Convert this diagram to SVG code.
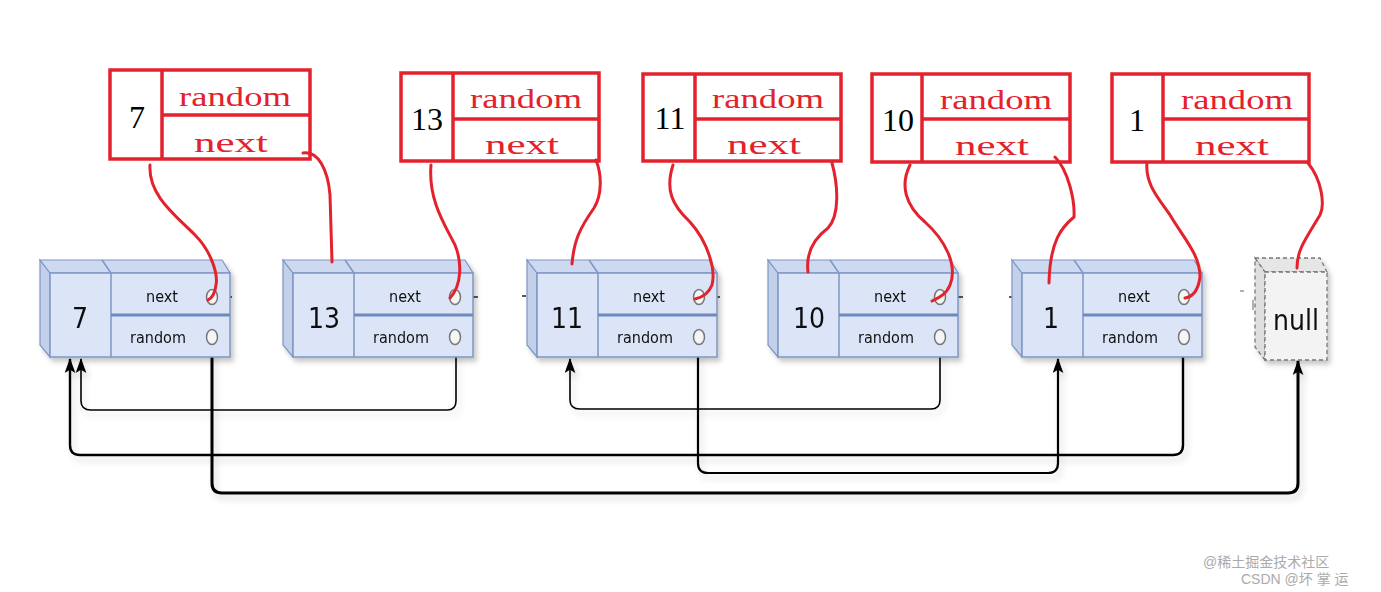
<svg xmlns="http://www.w3.org/2000/svg" xmlns:xlink="http://www.w3.org/1999/xlink" width="1381" height="592" viewBox="0 0 1381 592">
<style>
.face{fill:#dbe5f7;stroke:#7e96c4;stroke-width:1.5}
.side{fill:#c3d0ea;stroke:#7e96c4;stroke-width:1.2}
.top{fill:#cdd9f0;stroke:#7e96c4;stroke-width:1.2}
.div{stroke:#6f89bd;stroke-width:3}
.thin{stroke:#7e96c4;stroke-width:1.5}
.port{fill:#f4f6f4;stroke:#777;stroke-width:1.5}
.lbl{font-family:"DejaVu Sans Condensed","DejaVu Sans",sans-serif;font-size:16px;fill:#111;text-anchor:middle}
.val{font-family:"DejaVu Sans Condensed","DejaVu Sans",sans-serif;font-size:28px;fill:#111;text-anchor:middle}
.rbox{fill:#fff;stroke:#e3222d;stroke-width:3.5}
.rtxt{font-family:"Liberation Serif",serif;font-size:28px;fill:#e3222d;text-anchor:middle}
.rval{font-family:"Liberation Serif",serif;font-size:32px;fill:#000;text-anchor:middle}
.red{fill:none;stroke:#e3222d;stroke-width:3;stroke-linecap:round}
.con{fill:none;stroke:#000}
.wm{font-family:"Liberation Sans","Noto Sans CJK SC",sans-serif;font-size:14px;fill:#aaa}
</style>
<defs>
<filter id="sh" x="-10%" y="-10%" width="130%" height="140%">
<feDropShadow dx="3" dy="4" stdDeviation="2.5" flood-color="#000" flood-opacity="0.22"/>
</filter>
<filter id="shl" x="-5%" y="-20%" width="110%" height="160%">
<feDropShadow dx="3" dy="5" stdDeviation="3" flood-color="#000" flood-opacity="0.15"/>
</filter>
<marker id="arr" viewBox="0 0 14 10" refX="13" refY="5" markerWidth="15" markerHeight="11" markerUnits="userSpaceOnUse" orient="auto">
<path d="M0,0 L14,5 L0,10 L3,5 Z" fill="#000"/>
</marker>
<g id="shape">
<polygon class="side" points="-10,260 0,273 0,357 -10,345"/>
<polygon class="top" points="-10,260 172,260 180,273 0,273"/>
<line class="thin" x1="52" y1="260" x2="61" y2="273"/>
<rect class="face" x="0" y="273" width="180" height="84"/>
<line class="thin" x1="61" y1="273" x2="61" y2="357"/>
<line class="div" x1="61" y1="315" x2="180" y2="315"/>
<ellipse class="port" cx="162" cy="297" rx="5.5" ry="7.5"/>
<ellipse class="port" cx="162" cy="337" rx="5.5" ry="7.5"/>
<text class="lbl" x="112" y="302">next</text>
<text class="lbl" x="108" y="343">random</text>
</g>
</defs>
<rect width="1381" height="592" fill="#fff"/>

<g id="connectors">
<g filter="url(#shl)">
<path class="con" stroke-width="1.6" d="M456,344 V401 Q456,410 447,410 H91 Q81,410 81,401 V359" marker-end="url(#arr)"/>
<path class="con" stroke-width="1.6" d="M940,344 V400 Q940,409 931,409 H580 Q570,409 570,400 V359" marker-end="url(#arr)"/>
<path class="con" stroke-width="2.4" d="M1183,344 V445 Q1183,455 1173,455 H80 Q70,455 70,445 V359" marker-end="url(#arr)"/>
<path class="con" stroke-width="2.2" d="M698,344 V463 Q698,473 708,473 H1048 Q1058,473 1058,463 V359" marker-end="url(#arr)"/>
<path class="con" stroke-width="3" d="M212,344 V483 Q212,493 222,493 H1288 Q1298,493 1298,483 V361" marker-end="url(#arr)"/>
</g>
<g stroke="#000" stroke-width="1.3">
<line x1="217" y1="297" x2="232" y2="297"/>
<line x1="461" y1="297" x2="478" y2="297"/>
<line x1="703" y1="297" x2="720" y2="297"/>
<line x1="945" y1="297" x2="963" y2="297"/>
<line x1="1188" y1="297" x2="1197" y2="297" stroke-width="2.5"/>
<line x1="522" y1="296" x2="526" y2="296"/>
<line x1="1009" y1="297" x2="1012" y2="297"/>
<line x1="1240" y1="291" x2="1244" y2="291" stroke="#888"/>
<line x1="1253" y1="300" x2="1253" y2="310" stroke="#888"/>
</g>
</g>

<g id="node-7" filter="url(#sh)"><use href="#shape" x="50"/><text class="val" x="80" y="328">7</text></g>
<g id="node-13" filter="url(#sh)"><use href="#shape" x="293"/><text class="val" x="324" y="328">13</text></g>
<g id="node-11" filter="url(#sh)"><use href="#shape" x="537"/><text class="val" x="567" y="328">11</text></g>
<g id="node-10" filter="url(#sh)"><use href="#shape" x="778"/><text class="val" x="809" y="328">10</text></g>
<g id="node-1" filter="url(#sh)"><use href="#shape" x="1022"/><text class="val" x="1051" y="328">1</text></g>
<g id="node-null" filter="url(#sh)">
<polygon points="1255,258 1320,258 1327,272 1265,272" fill="#e6e6e6" stroke="#777" stroke-width="1.3" stroke-dasharray="4,3"/>
<polygon points="1255,258 1265,272 1265,360 1255,347" fill="#dedede" stroke="#777" stroke-width="1.3" stroke-dasharray="4,3"/>
<rect x="1265" y="272" width="62" height="88" fill="#f3f3f3" stroke="#777" stroke-width="1.3" stroke-dasharray="4,3"/>
<text class="val" x="1296" y="330">null</text>
</g>

<g id="box-7">
<rect class="rbox" x="110" y="70" width="200" height="89"/>
<line class="rbox" x1="162" y1="70" x2="162" y2="159"/>
<line class="rbox" x1="162" y1="115" x2="310" y2="115"/>
<text class="rval" x="137" y="128">7</text>
<text class="rtxt" x="235" y="106" textLength="112" lengthAdjust="spacingAndGlyphs">random</text>
<text class="rtxt" x="231" y="152" textLength="74" lengthAdjust="spacingAndGlyphs">next</text>
</g>
<g id="box-13">
<rect class="rbox" x="401" y="73" width="198" height="88"/>
<line class="rbox" x1="453" y1="73" x2="453" y2="161"/>
<line class="rbox" x1="453" y1="119" x2="599" y2="119"/>
<text class="rval" x="427" y="130">13</text>
<text class="rtxt" x="526" y="108" textLength="112" lengthAdjust="spacingAndGlyphs">random</text>
<text class="rtxt" x="522" y="154" textLength="74" lengthAdjust="spacingAndGlyphs">next</text>
</g>
<g id="box-11">
<rect class="rbox" x="643" y="74" width="198" height="87"/>
<line class="rbox" x1="695" y1="74" x2="695" y2="161"/>
<line class="rbox" x1="695" y1="119" x2="841" y2="119"/>
<text class="rval" x="670" y="129">11</text>
<text class="rtxt" x="768" y="108" textLength="112" lengthAdjust="spacingAndGlyphs">random</text>
<text class="rtxt" x="764" y="154" textLength="74" lengthAdjust="spacingAndGlyphs">next</text>
</g>
<g id="box-10">
<rect class="rbox" x="872" y="74" width="198" height="88"/>
<line class="rbox" x1="922" y1="74" x2="922" y2="162"/>
<line class="rbox" x1="922" y1="119" x2="1070" y2="119"/>
<text class="rval" x="898" y="131">10</text>
<text class="rtxt" x="996" y="109" textLength="112" lengthAdjust="spacingAndGlyphs">random</text>
<text class="rtxt" x="992" y="155" textLength="74" lengthAdjust="spacingAndGlyphs">next</text>
</g>
<g id="box-1">
<rect class="rbox" x="1112" y="74" width="197" height="88"/>
<line class="rbox" x1="1163" y1="74" x2="1163" y2="162"/>
<line class="rbox" x1="1163" y1="119" x2="1309" y2="119"/>
<text class="rval" x="1137" y="131">1</text>
<text class="rtxt" x="1237" y="109" textLength="112" lengthAdjust="spacingAndGlyphs">random</text>
<text class="rtxt" x="1232" y="155" textLength="74" lengthAdjust="spacingAndGlyphs">next</text>
</g>

<g id="red-links">
<path class="red" d="M150,165 C148,195 175,215 195,235 C212,252 218,275 216,285 C215,293 212,298 208,300"/>
<path class="red" d="M303,153 C318,150 328,170 330,195 L332,262"/>
<path class="red" d="M431,165 C428,200 445,225 455,245 C462,262 462,285 450,298"/>
<path class="red" d="M596,160 C602,175 602,195 594,208 C580,228 574,240 572,264"/>
<path class="red" d="M673,165 C665,190 672,205 690,222 C708,242 716,270 712,285 C708,295 700,298 695,299"/>
<path class="red" d="M832,163 C838,185 840,215 828,228 C812,240 806,255 808,272"/>
<path class="red" d="M910,165 C900,185 905,205 925,222 C945,240 958,265 950,285 C946,295 938,298 932,301"/>
<path class="red" d="M1055,157 C1068,170 1075,200 1074,217 C1062,227 1050,240 1049,283"/>
<path class="red" d="M1147,163 C1145,185 1160,200 1170,215 C1185,240 1200,255 1200,277 C1198,292 1192,297 1185,298"/>
<path class="red" d="M1308,163 C1322,180 1325,205 1320,215 C1305,240 1297,250 1297,268"/>
</g>

<g id="watermark">
<text class="wm" x="1203" y="567">@稀土掘金技术社区</text>
<text class="wm" x="1241" y="584" fill="#999">CSDN @坏 掌 运</text>
</g>
</svg>
